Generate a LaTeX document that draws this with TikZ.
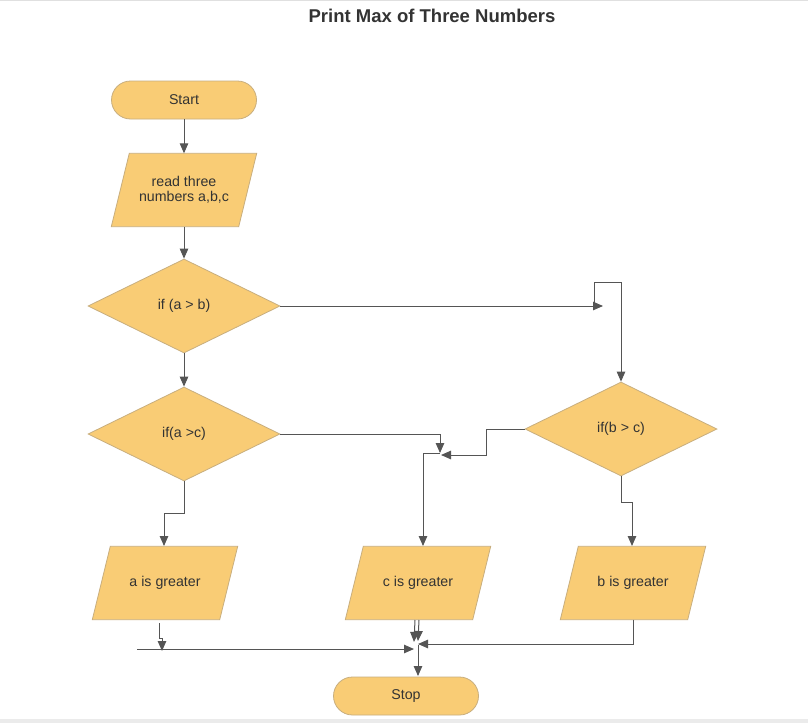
\documentclass[tikz,border=0pt]{standalone}
\usepackage{fontspec}
\setmainfont{Liberation Sans}
\usetikzlibrary{shapes.geometric,arrows.meta,backgrounds}
\definecolor{boxfill}{HTML}{F9CC75}
\definecolor{boxline}{HTML}{C8AE7E}
\definecolor{conn}{HTML}{555555}
\definecolor{txt}{HTML}{333333}
\tikzset{
  base/.style={fill=boxfill,draw=boxline,line width=0.8pt,text=txt,font=\fontsize{14.2}{15.5}\selectfont,inner sep=0pt,align=center},
  term/.style={base,rectangle,rounded corners=19pt,minimum width=145pt,minimum height=38pt},
  io/.style={rectangle,text=txt,font=\fontsize{14.2}{15.5}\selectfont,inner sep=0pt,align=center,minimum width=127pt,minimum height=73pt},
  iobox/.style={fill=boxfill,draw=boxline,line width=0.8pt},
  dec/.style={base,diamond,minimum width=192pt,minimum height=94pt},
  arr/.style={draw=conn,line width=1pt,-{Triangle[length=10pt,width=8.5pt]}},
  ln/.style={draw=conn,line width=1pt}
}
\begin{document}
\begin{tikzpicture}[x=1pt,y=-1pt]
\useasboundingbox (0,0) rectangle (808,723);
\node[text=txt,font=\bfseries\fontsize{18.5}{21}\selectfont] (title) at (432,16) {Print Max of Three Numbers};
\node[term] (start) at (184,100) {Start};
\node[io] (read) at (184,190) {read three\\numbers a,b,c};
\node[dec] (ab) at (184,306) {if (a > b)};
\node[dec] (ac) at (184,434) {if(a >c)};
\node[dec] (bc) at (621,429) {if(b > c)};
\node[io] (agt) at (165,583) {a is greater};
\node[io] (cgt) at (418,583) {c is greater};
\node[io] (bgt) at (633,583) {b is greater};
\node[term] (stop) at (406,696) {Stop};
\begin{scope}[on background layer]
\fill[white] (0,0) rectangle (808,723);
\draw[color=black!12,line width=1pt] (0,0.5) -- (808,0.5);
\fill[color=black!8] (0,719) rectangle (808,723);
\foreach \n in {read,agt,cgt,bgt}
  \draw[iobox] ([xshift=9pt]\n.north west) -- ([xshift=9pt]\n.north east) -- ([xshift=-9pt]\n.south east) -- ([xshift=-9pt]\n.south west) -- cycle;
\end{scope}
% coordinates
\coordinate (abend) at (603,306);
\coordinate (loopst) at (594,304);
\coordinate (jc) at (441,455);
\coordinate (jac) at (440,453);
\coordinate (merge) at (418,645);
\coordinate (aline) at (137,649);
\coordinate (amerge) at (414,649);
\coordinate (cend1) at (414,642);
\coordinate (cend2) at (418,641);
\coordinate (bend) at (418,644);
% connectors
\draw[arr] (start) -- (read);
\draw[arr] (read) -- (ab);
\draw[arr] (ab) -- (ac);
\draw[arr] (ab.east) -- (abend);
\draw[arr] (loopst) -- (594,282) -- (621,282) -- (bc.north);
\draw[arr] (bc.west) -- (486,429) -- (486,455) -- (jc);
\draw[arr] (ac.east) -- (440,434) -- (440,453);
\draw[arr] (jac) -- (423,453) -- (423,546);
\draw[arr] (ac.south) -- (184,513) -- (164,513) -- (164,546);
\draw[arr] (bc.south) -- (621,502) -- (632,502) -- (632,546);
\draw[arr] (bgt.south) -- (633,644) -- (bend);
\draw[arr] (415,620) -- (cend1);
\draw[arr] (419,620) -- (cend2);
\draw[arr] (159,623) -- (159,638) -- (162,638) -- (162,651);
\draw[arr] (aline) -- (amerge);
\draw[arr] (merge) -- (418,676);
\end{tikzpicture}
\end{document}
